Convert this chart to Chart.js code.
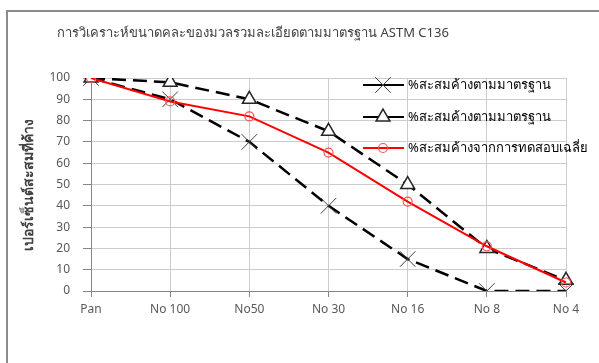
<!DOCTYPE html>
<html>
<head>
<meta charset="utf-8">
<script src="https://cdn.jsdelivr.net/npm/chart.js@4.4.1/dist/chart.umd.min.js"></script>
<style>
  html, body { margin: 0; padding: 0; background: #fff; }
  #wrap { width: 599px; height: 363px; }
</style>
</head>
<body>
<div id="wrap"><canvas id="gradingChart" width="599" height="363"></canvas></div>
<script>
// Sieve sizes (x axis)
const sieves = ['Pan', 'No 100', 'No50', 'No 30', 'No 16', 'No 8', 'No 4'];

// Cumulative % retained
const lowerLimit = [100, 90, 70, 40, 15, 0, 0];
const upperLimit = [100, 98, 90, 75, 50, 20, 5];
const testAverage = [100, 89, 82, 65, 42, 21, 4];

const seriesNames = [
    '%สะสมค้างตามมาตรฐาน',
    '%สะสมค้างตามมาตรฐาน',
    '%สะสมค้างจากการทดสอบเฉลี่ย'
];

const yTicks = [0, 10, 20, 30, 40, 50, 60, 70, 80, 90, 100];

const chartTitle = 'การวิเคราะห์ขนาดคละของมวลรวมละเอียดตามมาตรฐาน ASTM C136';
const yTitle = 'เปอร์เซ็นต์สะสมที่ค้าง';

const FONT = "Tahoma, 'Noto Sans', 'DejaVu Sans', sans-serif";

// Frame + title drawn on canvas
const framePlugin = {
    id: 'frame',
    beforeDraw(chart) {
        const ctx = chart.ctx;
        ctx.save();
        ctx.strokeStyle = '#8c8c8c';
        ctx.lineWidth = 2;
        ctx.beginPath();
        ctx.moveTo(7, 363);
        ctx.lineTo(7, 11);
        ctx.lineTo(599, 11);
        ctx.stroke();
        ctx.fillStyle = '#404040';
        ctx.font = '13px ' + FONT;
        ctx.textAlign = 'center';
        ctx.textBaseline = 'middle';
        ctx.fillText(chartTitle, 253, 33);
        ctx.restore();
    }
};

// Legend sitting inside the plot area, like the spreadsheet one
const insideLegend = {
    id: 'insideLegend',
    afterDatasetsDraw(chart) {
        const ctx = chart.ctx;
        const rows = [85, 117, 148];
        chart.data.datasets.forEach(function(ds, i) {
            const y = rows[i];
            ctx.save();
            ctx.strokeStyle = ds.borderColor;
            ctx.lineWidth = 2;
            ctx.setLineDash([]);
            ctx.beginPath();
            ctx.moveTo(363, y);
            ctx.lineTo(404, y);
            ctx.stroke();
            ctx.strokeStyle = ds.pointBorderColor;
            ctx.fillStyle = ds.pointBackgroundColor;
            ctx.lineWidth = ds.pointBorderWidth;
            Chart.helpers.drawPoint(ctx, {
                pointStyle: ds.pointStyle,
                radius: ds.pointRadius,
                rotation: 0,
                borderWidth: ds.pointBorderWidth
            }, 383, y);
            ctx.fillStyle = '#000';
            ctx.font = '13px ' + FONT;
            ctx.textAlign = 'left';
            ctx.textBaseline = 'middle';
            ctx.fillText(ds.label, 408, y);
            ctx.restore();
        });
    }
};

const ctx = document.getElementById('gradingChart').getContext('2d');
new Chart(ctx, {
    type: 'line',
    data: {
        labels: sieves,
        datasets: [
            {
                label: seriesNames[0],
                data: lowerLimit,
                borderColor: '#000',
                borderWidth: 2.5,
                borderDash: [14, 7],
                pointStyle: 'crossRot',
                pointRadius: 11,
                pointBorderColor: '#404040',
                pointBackgroundColor: '#404040',
                pointBorderWidth: 1,
                order: 3
            },
            {
                label: seriesNames[1],
                data: upperLimit,
                borderColor: '#000',
                borderWidth: 2.5,
                borderDash: [14, 7],
                pointStyle: 'triangle',
                pointRadius: 8,
                pointBorderColor: '#262626',
                pointBackgroundColor: '#fff',
                pointBorderWidth: 1.5,
                order: 2
            },
            {
                label: seriesNames[2],
                data: testAverage,
                borderColor: '#ff0000',
                borderWidth: 2,
                pointStyle: 'circle',
                pointRadius: 4.5,
                pointBorderColor: '#ff5050',
                pointBackgroundColor: 'rgba(255,255,255,0)',
                pointBorderWidth: 1.2,
                order: 1
            }
        ]
    },
    options: {
        responsive: false,
        animation: false,
        layout: { padding: { top: 78, right: 33, bottom: 0, left: 0 } },
        plugins: {
            legend: { display: false },
            title: { display: false },
            tooltip: { enabled: false }
        },
        scales: {
            x: {
                offset: false,
                grid: { color: '#cccccc', tickColor: '#868686', tickLength: 6, offset: false },
                border: { color: '#868686' },
                ticks: {
                    color: '#595959',
                    font: { family: FONT, size: 12 },
                    padding: 5,
                    maxRotation: 0
                },
                afterFit(scale) { scale.height = 72; }
            },
            y: {
                min: 0,
                max: 100,
                afterBuildTicks(scale) {
                    scale.ticks = yTicks.map(v => ({ value: v }));
                },
                grid: { color: '#cccccc', tickColor: '#868686', tickLength: 8 },
                border: { color: '#868686' },
                ticks: {
                    color: '#595959',
                    font: { family: FONT, size: 12 },
                    padding: 13
                },
                title: {
                    display: true,
                    text: yTitle,
                    color: '#404040',
                    font: { family: FONT, size: 14, weight: 'bold' },
                    padding: { top: 21, bottom: 0 }
                },
                afterFit(scale) { scale.width = 91; }
            }
        }
    },
    plugins: [framePlugin, insideLegend]
});
</script>
</body>
</html>
